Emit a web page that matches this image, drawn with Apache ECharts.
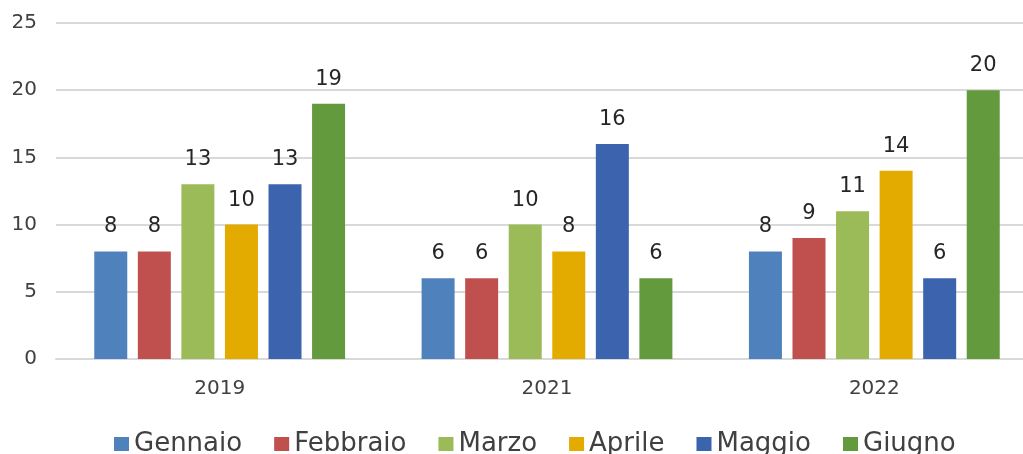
<!DOCTYPE html>
<html>
<head>
<meta charset="utf-8">
<script src="https://cdn.jsdelivr.net/npm/echarts@6/dist/echarts.min.js"></script>
<style>
  html, body { margin: 0; padding: 0; background: #fff; overflow: hidden; }
  #chart { width: 1038px; height: 454px; }
</style>
</head>
<body>
<div id="chart"></div>
<script>
var anni = ['2019', '2021', '2022'];
var mesi = ['Gennaio', 'Febbraio', 'Marzo', 'Aprile', 'Maggio', 'Giugno'];
var colori = ['#4F81BD', '#C0504D', '#9BBB59', '#E3AB00', '#3C63AD', '#629A3D'];

var gennaio = [8, 6, 8];
var febbraio = [8, 6, 9];
var marzo = [13, 10, 11];
var aprile = [10, 8, 14];
var maggio = [13, 16, 6];
var giugno = [19, 6, 20];

var valori = [gennaio, febbraio, marzo, aprile, maggio, giugno];

var font = 'DejaVu Sans, Verdana, sans-serif';

var serie = [];
for (var i = 0; i < mesi.length; i++) {
  serie.push({
    name: mesi[i],
    type: 'bar',
    data: valori[i],
    barWidth: 33,
    barGap: '32%',
    itemStyle: { color: colori[i] },
    label: {
      show: true,
      position: 'top',
      distance: 14,
      color: '#262626',
      fontSize: 21,
      fontFamily: font
    }
  });
}

// il grafico originale e' tagliato a destra, quindi il div e' piu' largo della finestra
var chart = echarts.init(document.getElementById('chart'), null, { renderer: 'canvas' });

chart.setOption({
  animation: false,
  color: colori,
  grid: {
    left: 56,
    right: 0,
    top: 23,
    bottom: 95,
    containLabel: false
  },
  legend: {
    data: mesi,
    top: 426,
    left: 109,
    itemWidth: 15,
    itemHeight: 14,
    itemGap: 32,
    icon: 'rect',
    textStyle: { fontSize: 26, color: '#404040', fontFamily: font }
  },
  xAxis: {
    type: 'category',
    data: anni,
    axisLine: { lineStyle: { color: '#d9d9d9', width: 2 } },
    axisTick: { show: false },
    axisLabel: { color: '#404040', fontSize: 20, margin: 20, fontFamily: font }
  },
  yAxis: {
    type: 'value',
    min: 0,
    max: 25,
    interval: 5,
    axisLine: { show: false },
    axisTick: { show: false },
    axisLabel: { color: '#404040', fontSize: 20, margin: 19, fontFamily: font },
    splitLine: { lineStyle: { color: '#d9d9d9', width: 2 } }
  },
  series: serie
});
</script>
</body>
</html>
